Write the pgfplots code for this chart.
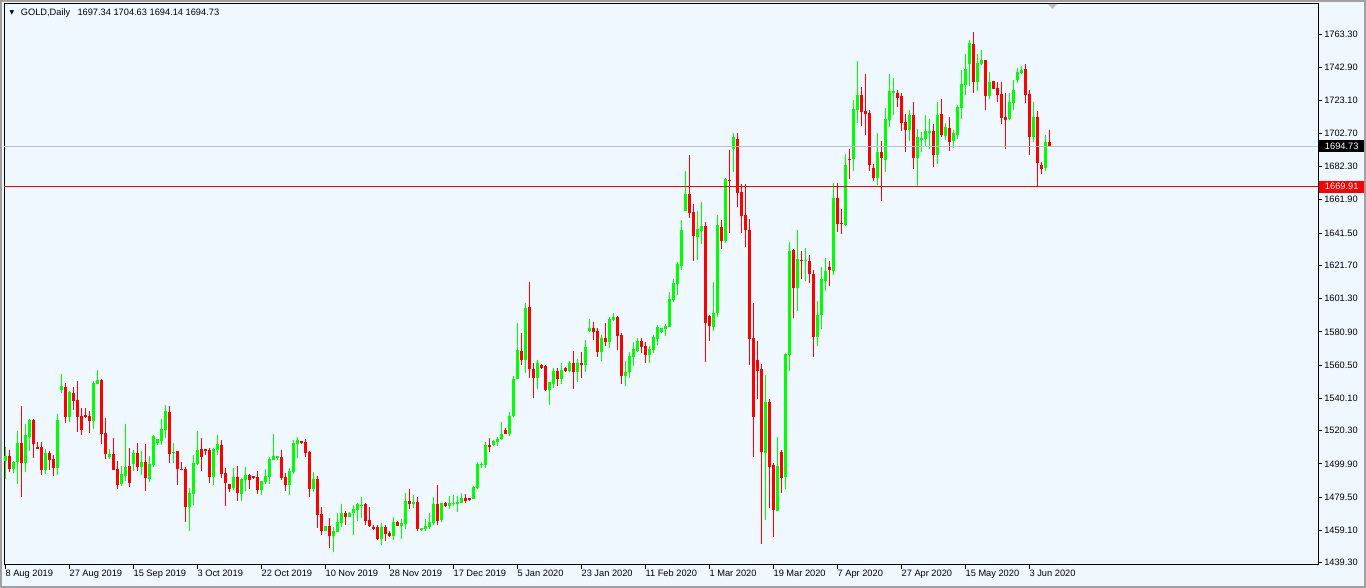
\documentclass[border=0pt]{standalone}
\usepackage{pgfplots}
\pgfplotsset{compat=1.18}
\usepackage{pgfplotstable}
\usepackage{fontspec}
\setmainfont{Liberation Sans}
\newfontfamily\dejavu{DejaVu Sans}
\definecolor{bg}{HTML}{F0F8FF}
\definecolor{upc}{HTML}{00FF00}
\definecolor{dnc}{HTML}{FF0000}
\definecolor{bidc}{HTML}{C0C0C0}
\definecolor{winc}{HTML}{A0A0A0}
\newcommand{\mtfont}{\fontsize{9.3}{11}\selectfont}

\pgfplotstableread{
k o h l c
0 1501.8 1510.0 1490.4 1504.7
1 1504.7 1508.4 1495.1 1496.9
2 1496.5 1501.8 1494.1 1501.0
3 1501.0 1520.0 1487.5 1512.5
4 1512.5 1535.4 1479.8 1500.6
5 1500.6 1524.3 1494.9 1517.4
6 1516.6 1527.2 1507.9 1526.8
7 1526.8 1527.2 1503.7 1512.1
8 1510.2 1513.3 1508.8 1509.2
9 1510.2 1513.3 1493.0 1496.1
10 1496.1 1509.0 1493.9 1506.5
11 1506.5 1508.0 1496.3 1502.2
12 1502.9 1505.3 1492.4 1497.5
13 1497.3 1530.5 1493.0 1526.8
14 1545.2 1555.0 1543.4 1547.6
15 1547.0 1549.3 1525.2 1528.8
16 1528.4 1544.6 1525.8 1544.0
17 1543.4 1546.8 1532.9 1538.7
18 1539.1 1550.7 1519.6 1528.8
19 1529.2 1533.9 1517.4 1520.7
20 1529.9 1533.9 1527.8 1528.6
21 1529.2 1532.5 1519.0 1526.2
22 1526.2 1550.9 1521.5 1549.3
23 1548.9 1557.5 1548.9 1551.3
24 1551.3 1552.1 1512.1 1518.4
25 1518.8 1527.8 1502.7 1505.9
26 1504.1 1509.2 1503.1 1505.9
27 1505.9 1515.5 1496.1 1496.1
28 1496.7 1501.6 1484.3 1486.9
29 1487.3 1498.8 1486.5 1493.7
30 1492.6 1524.3 1489.4 1498.2
31 1498.6 1509.8 1485.9 1488.3
32 1499.8 1508.4 1495.5 1506.3
33 1506.3 1512.5 1495.5 1498.2
34 1498.2 1507.8 1493.0 1501.2
35 1500.8 1511.9 1483.2 1491.4
36 1490.6 1504.7 1488.5 1499.8
37 1499.2 1517.6 1498.0 1517.0
38 1512.5 1515.3 1511.5 1515.1
39 1514.1 1527.4 1511.5 1521.3
40 1520.9 1536.0 1515.5 1532.3
41 1531.9 1535.4 1500.2 1505.9
42 1506.5 1512.5 1500.2 1507.2
43 1507.8 1507.8 1486.9 1496.7
44 1496.9 1500.8 1496.1 1496.1
45 1496.7 1498.2 1464.4 1473.4
46 1473.4 1485.3 1458.7 1482.0
47 1481.4 1505.3 1474.6 1500.2
48 1499.8 1520.0 1499.2 1508.4
49 1509.0 1515.8 1495.5 1504.1
50 1509.0 1509.0 1505.3 1507.8
51 1508.4 1509.8 1488.1 1492.0
52 1492.0 1509.8 1486.9 1509.0
53 1508.4 1517.6 1505.3 1511.9
54 1511.5 1514.5 1491.4 1493.7
55 1494.3 1497.5 1474.0 1488.1
56 1487.5 1487.5 1482.8 1484.4
57 1484.9 1497.5 1483.8 1492.0
58 1491.8 1498.8 1477.1 1482.2
59 1481.6 1491.0 1477.1 1490.6
60 1490.0 1498.0 1483.2 1493.0
61 1493.0 1493.9 1484.5 1490.0
62 1492.4 1492.6 1490.6 1491.2
63 1491.8 1495.5 1481.4 1483.8
64 1483.8 1489.4 1480.8 1489.4
65 1489.0 1496.7 1487.7 1492.4
66 1492.0 1504.3 1487.5 1502.9
67 1502.4 1518.2 1502.4 1504.7
68 1503.3 1504.7 1502.0 1504.5
69 1504.1 1508.4 1490.0 1491.4
70 1491.8 1494.5 1483.2 1486.9
71 1486.9 1497.5 1480.8 1495.5
72 1495.1 1514.5 1493.9 1512.9
73 1512.3 1516.2 1503.7 1514.5
74 1514.1 1514.1 1512.3 1512.9
75 1513.3 1515.1 1504.1 1506.5
76 1507.4 1508.0 1479.8 1484.5
77 1484.5 1494.9 1482.8 1490.6
78 1490.6 1492.4 1460.7 1468.7
79 1469.1 1473.6 1456.2 1458.7
80 1458.7 1461.7 1458.7 1461.7
81 1461.7 1466.7 1448.5 1455.6
82 1455.6 1461.3 1446.0 1458.7
83 1458.3 1469.7 1458.3 1464.2
84 1463.8 1475.2 1461.1 1469.7
85 1469.7 1470.9 1462.4 1467.3
86 1467.3 1470.1 1467.3 1469.7
87 1469.5 1474.8 1456.2 1472.0
88 1471.6 1476.1 1465.0 1475.2
89 1474.0 1479.3 1466.4 1474.8
90 1475.5 1476.1 1462.4 1465.0
91 1465.4 1473.6 1461.3 1461.7
92 1461.3 1462.2 1459.3 1460.1
93 1460.9 1462.2 1453.2 1453.8
94 1453.8 1463.8 1450.1 1460.9
95 1461.3 1462.2 1452.8 1456.8
96 1457.7 1458.5 1454.8 1455.8
97 1455.8 1467.3 1453.2 1464.2
98 1464.2 1464.8 1461.7 1461.9
99 1461.9 1466.2 1453.8 1463.4
100 1462.8 1482.2 1459.9 1477.1
101 1477.1 1484.5 1472.4 1475.5
102 1475.5 1480.8 1472.8 1476.5
103 1476.5 1479.7 1458.7 1460.1
104 1459.3 1460.5 1458.7 1460.5
105 1459.9 1466.0 1458.7 1461.7
106 1461.3 1469.9 1460.1 1464.2
107 1463.8 1479.7 1462.4 1475.2
108 1475.2 1486.9 1462.2 1464.6
109 1465.4 1476.1 1464.4 1476.1
110 1476.1 1476.5 1473.6 1474.2
111 1474.2 1480.2 1472.2 1476.1
112 1475.5 1480.8 1474.0 1476.1
113 1475.6 1480.2 1470.3 1476.7
114 1476.1 1482.0 1476.1 1478.9
115 1478.9 1481.4 1476.1 1477.3
116 1478.9 1478.9 1477.3 1478.1
117 1478.5 1486.3 1478.5 1485.7
118 1485.3 1501.0 1484.3 1499.8
119 1499.2 1501.0 1497.6 1499.8
120 1499.4 1513.3 1497.6 1511.7
121 1511.7 1516.0 1507.4 1510.4
122 1511.3 1514.5 1510.9 1513.7
123 1513.5 1516.6 1510.9 1515.3
124 1514.9 1525.8 1514.5 1518.4
125 1520.7 1521.9 1518.2 1518.4
126 1518.4 1531.7 1517.2 1529.5
127 1529.5 1553.8 1528.8 1552.0
128 1552.0 1586.5 1552.0 1569.7
129 1569.3 1580.4 1560.5 1563.6
130 1563.6 1598.8 1555.4 1595.5
131 1596.1 1611.5 1552.3 1558.3
132 1558.3 1562.0 1540.5 1552.6
133 1552.6 1563.6 1546.0 1561.8
134 1560.5 1561.4 1558.1 1558.7
135 1560.1 1560.5 1544.8 1545.2
136 1545.2 1550.3 1536.0 1549.9
137 1548.9 1558.9 1546.6 1556.9
138 1556.9 1558.7 1547.9 1552.0
139 1551.8 1561.8 1549.1 1557.5
140 1558.9 1559.1 1556.5 1557.1
141 1557.1 1563.0 1556.5 1561.8
142 1561.8 1569.3 1546.0 1556.5
143 1556.5 1564.4 1550.3 1561.8
144 1562.0 1568.3 1552.4 1560.5
145 1560.5 1575.9 1556.5 1571.6
146 1581.4 1588.8 1581.0 1583.3
147 1583.3 1586.7 1575.9 1581.0
148 1581.4 1583.1 1565.5 1568.7
149 1568.3 1579.0 1563.2 1577.3
150 1577.3 1586.3 1572.0 1574.9
151 1574.9 1590.2 1571.2 1589.0
152 1588.2 1592.3 1587.8 1590.2
153 1590.0 1590.6 1570.0 1578.5
154 1578.9 1580.0 1549.1 1554.0
155 1554.0 1563.0 1547.5 1556.3
156 1556.3 1568.7 1552.8 1566.1
157 1565.5 1574.9 1560.1 1570.4
158 1569.1 1576.9 1568.3 1575.3
159 1575.3 1576.9 1567.7 1571.6
160 1572.2 1574.5 1562.0 1566.7
161 1566.7 1572.0 1562.0 1570.6
162 1569.8 1579.0 1567.7 1577.7
163 1576.5 1585.1 1572.8 1583.9
164 1580.8 1583.5 1580.2 1583.1
165 1582.9 1585.7 1578.3 1584.5
166 1584.1 1605.5 1584.1 1601.0
167 1600.4 1613.3 1599.4 1611.1
168 1610.0 1624.0 1603.5 1622.5
169 1621.5 1649.5 1618.8 1643.4
170 1655.0 1679.6 1655.0 1665.5
171 1665.5 1689.4 1650.9 1654.0
172 1654.4 1659.1 1624.4 1639.9
173 1639.3 1655.2 1625.0 1644.0
174 1642.8 1660.8 1634.8 1645.8
175 1645.8 1648.3 1562.6 1586.1
176 1590.6 1591.2 1575.5 1584.7
177 1583.7 1611.5 1581.6 1592.3
178 1592.3 1652.6 1589.8 1646.2
179 1645.4 1649.5 1631.9 1636.8
180 1636.8 1675.1 1635.6 1674.5
181 1674.1 1692.5 1641.8 1673.7
182 1693.3 1702.7 1679.2 1700.2
183 1699.2 1702.7 1657.3 1666.3
184 1666.7 1671.6 1641.8 1652.2
185 1652.6 1671.6 1633.2 1643.4
186 1643.4 1650.1 1560.6 1576.7
187 1577.1 1598.8 1504.3 1528.9
188 1563.6 1575.5 1539.9 1557.1
189 1558.1 1561.2 1450.7 1507.4
190 1506.4 1554.4 1465.5 1537.9
191 1537.9 1539.9 1472.8 1498.2
192 1499.0 1500.2 1455.2 1471.6
193 1471.2 1516.6 1471.2 1498.8
194 1507.2 1508.4 1482.2 1491.2
195 1491.8 1568.1 1484.3 1567.3
196 1566.7 1636.2 1557.1 1630.7
197 1631.1 1631.5 1589.6 1608.0
198 1608.0 1643.4 1593.7 1625.6
199 1625.0 1630.5 1613.1 1624.6
200 1624.6 1632.3 1612.3 1625.0
201 1624.4 1628.0 1610.7 1616.2
202 1616.4 1618.8 1565.7 1577.5
203 1577.5 1600.0 1572.4 1591.2
204 1591.2 1620.5 1582.4 1613.3
205 1612.3 1626.0 1606.2 1618.2
206 1620.7 1624.6 1609.2 1618.8
207 1618.4 1672.4 1615.8 1663.2
208 1663.2 1672.4 1642.3 1647.3
209 1647.7 1656.3 1641.1 1647.1
210 1646.5 1689.8 1646.0 1683.3
211 1687.2 1693.1 1674.9 1686.5
212 1687.0 1723.1 1679.8 1717.6
213 1717.0 1747.1 1709.2 1726.2
214 1726.2 1731.1 1707.2 1716.0
215 1716.4 1739.1 1701.7 1714.8
216 1715.2 1717.0 1679.8 1683.3
217 1681.2 1683.9 1673.4 1675.5
218 1675.5 1702.9 1671.0 1691.2
219 1691.2 1698.0 1661.4 1687.8
220 1686.3 1718.0 1679.2 1711.5
221 1710.9 1739.1 1706.6 1728.7
222 1727.6 1736.6 1713.9 1728.7
223 1727.6 1729.1 1719.1 1724.6
224 1725.6 1727.2 1703.9 1709.2
225 1709.6 1714.6 1691.4 1704.9
226 1704.9 1717.0 1698.2 1713.9
227 1713.9 1721.9 1681.0 1687.8
228 1687.8 1705.1 1670.0 1700.2
229 1698.6 1703.7 1691.4 1700.0
230 1699.2 1713.9 1694.9 1704.1
231 1702.9 1711.7 1692.9 1704.1
232 1704.1 1708.4 1682.2 1689.4
233 1689.4 1722.1 1683.9 1713.7
234 1714.6 1723.8 1700.7 1701.7
235 1701.3 1708.8 1698.6 1706.6
236 1705.8 1712.5 1692.1 1697.6
237 1698.2 1704.7 1693.7 1702.9
238 1701.7 1720.1 1699.0 1718.7
239 1718.0 1741.6 1711.3 1732.8
240 1732.4 1751.4 1726.2 1742.0
241 1745.4 1759.9 1731.7 1757.9
242 1757.5 1764.7 1727.2 1734.4
243 1734.4 1751.4 1728.5 1745.6
244 1745.4 1753.8 1744.8 1747.7
245 1747.7 1747.7 1717.0 1725.6
246 1725.6 1740.3 1723.8 1734.2
247 1734.8 1734.8 1729.9 1730.1
248 1730.5 1734.2 1721.9 1726.4
249 1726.8 1734.2 1708.6 1712.3
250 1712.9 1727.6 1693.1 1710.9
251 1711.5 1727.2 1710.9 1721.9
252 1721.5 1735.4 1717.0 1729.3
253 1735.4 1742.6 1733.4 1740.3
254 1739.7 1744.0 1739.1 1741.6
255 1742.0 1745.2 1721.5 1726.4
256 1726.8 1729.3 1689.4 1700.6
257 1700.6 1721.9 1697.4 1712.7
258 1712.7 1716.6 1670.4 1684.7
259 1683.3 1685.3 1677.7 1681.0
260 1681.6 1701.7 1679.8 1697.4
261 1697.34 1704.63 1694.14 1694.73
}\candles

\begin{document}
\begin{tikzpicture}[x=1bp,y=1bp]
\fill[bg] (-4,-23) rectangle (1362,565);
\useasboundingbox (-4,-23) rectangle (1362,565);
\begin{axis}[
  at={(0,0)}, anchor=south west,
  scale only axis, width=1314bp, height=561bp,
  xmin=-0.35, xmax=328.15, ymin=1437.82, ymax=1782.05,
  axis line style={line width=1bp, black},
  axis background/.style={fill=bg},
  tick align=outside,
  major tick length=4bp,
  tick style={black, line width=1bp},
  xtick={0,16,...,256},
  xticklabels={8 Aug 2019,27 Aug 2019,15 Sep 2019,3 Oct 2019,22 Oct 2019,10 Nov 2019,28 Nov 2019,17 Dec 2019,5 Jan 2020,23 Jan 2020,11 Feb 2020,1 Mar 2020,19 Mar 2020,7 Apr 2020,27 Apr 2020,15 May 2020,3 Jun 2020},
  xtick pos=bottom,
  ytick pos=right,
  ytick={1763.30,1742.90,1723.10,1702.70,1682.30,1661.90,1641.50,1621.70,1601.30,1580.90,1560.50,1540.10,1520.30,1499.90,1479.50,1459.10,1439.30},
  yticklabels={1763.30,1742.90,1723.10,1702.70,1682.30,1661.90,1641.50,1621.70,1601.30,1580.90,1560.50,1540.10,1520.30,1499.90,1479.50,1459.10,1439.30},
  tick label style={font=\mtfont, black},
  xticklabel style={anchor=north west, inner sep=0pt, xshift=0bp, yshift=-1bp},
  yticklabel style={anchor=west, inner sep=0pt, xshift=2bp},
  clip=true,
]
% wicks and bodies, up candles
\addplot[draw=none, mark=none, forget plot,
  error bars/.cd, y dir=both, y explicit, error mark=none,
  error bar style={line width=1bp, draw=upc}]
  table[x=k, y expr={\thisrow{c}>=\thisrow{o} ? 0.5*(\thisrow{h}+\thisrow{l}) : nan},
        y error expr={0.5*(\thisrow{h}-\thisrow{l})}] {\candles};
\addplot[draw=none, mark=none, forget plot,
  error bars/.cd, y dir=both, y explicit, error mark=none,
  error bar style={line width=3bp, draw=upc}]
  table[x=k, y expr={\thisrow{c}>=\thisrow{o} ? 0.5*(\thisrow{o}+\thisrow{c}) : nan},
        y error expr={max(0.5*abs(\thisrow{c}-\thisrow{o}),0.31)}] {\candles};
% down candles
\addplot[draw=none, mark=none, forget plot,
  error bars/.cd, y dir=both, y explicit, error mark=none,
  error bar style={line width=1bp, draw=dnc}]
  table[x=k, y expr={\thisrow{c}<\thisrow{o} ? 0.5*(\thisrow{h}+\thisrow{l}) : nan},
        y error expr={0.5*(\thisrow{h}-\thisrow{l})}] {\candles};
\addplot[draw=none, mark=none, forget plot,
  error bars/.cd, y dir=both, y explicit, error mark=none,
  error bar style={line width=3bp, draw=dnc}]
  table[x=k, y expr={\thisrow{c}<\thisrow{o} ? 0.5*(\thisrow{o}+\thisrow{c}) : nan},
        y error expr={max(0.5*abs(\thisrow{c}-\thisrow{o}),0.31)}] {\candles};
% bid line and level line
\addplot[bidc, line width=1bp, forget plot] coordinates {(-0.35,1694.73) (328.15,1694.73)};
\addplot[dnc, line width=1bp, forget plot] coordinates {(-0.35,1669.91) (328.15,1669.91)};
\coordinate (bidpt) at (axis cs:-0.35,1694.73);
\coordinate (lvlpt) at (axis cs:-0.35,1669.91);
\end{axis}
% price tags
\node[fill=black, text=white, font=\mtfont, anchor=west, inner sep=0pt, minimum height=12bp, minimum width=45bp] at ([xshift=1315bp]bidpt) {1694.73};
\node[fill=dnc, text=white, font=\mtfont, anchor=west, inner sep=0pt, minimum height=12bp, minimum width=45bp] at ([xshift=1315bp]lvlpt) {1669.91};
% header
\node[font=\dejavu\fontsize{6}{6}\selectfont, inner sep=0pt] at (8,552.5) {▼};
\node[font=\mtfont, anchor=base west, inner sep=0pt] at (16.7,549.3) {GOLD,Daily};
\node[font=\mtfont, anchor=base west, inner sep=0pt] at (73.3,549.3) {1697.34 1704.63 1694.14 1694.73};
% chart shift marker
\fill[winc!70] (1044,561) -- (1053,561) -- (1048.5,556) -- cycle;
% window border
\draw[winc, line width=2bp] (-3,-22) rectangle (1361,564);
\end{tikzpicture}
\end{document}
